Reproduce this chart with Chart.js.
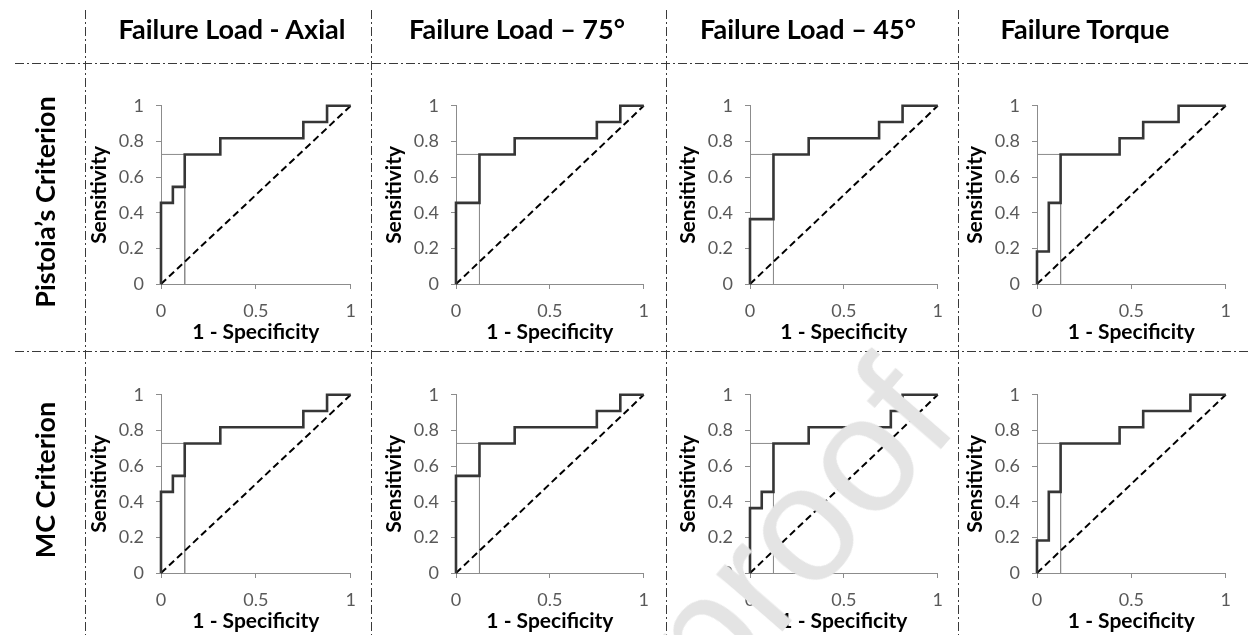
<!DOCTYPE html>
<html>
<head>
<meta charset="utf-8">
<title>ROC curves</title>
<script src="https://cdn.jsdelivr.net/npm/chart.js@4.4.1/dist/chart.umd.min.js"></script>
<style>
  html, body { margin: 0; padding: 0; background: #fff; }
  #page { position: relative; width: 1249px; height: 635px; overflow: hidden; font-family: Lato, "Open Sans", sans-serif; color: #000; }
  #grid { position: absolute; left: 0; top: 0; }
  .panel { position: absolute; }
  .head { position: absolute; top: 28px; font-size: 27px; font-weight: bold; white-space: nowrap; transform: translate(-50%, -50%); }
  .rowlab { position: absolute; font-size: 27px; font-weight: bold; white-space: nowrap; transform: translate(-50%, -50%) rotate(-90deg); }
  #mark { position: absolute; right: 330px; top: 306px; height: 165px; line-height: 165px; font-size: 165px;
          font-family: "Liberation Sans", Arial, sans-serif; color: #e4e4e4; white-space: nowrap;
          transform-origin: 100% 50%; transform: rotate(-49deg); pointer-events: none; }
</style>
</head>
<body>
<div id="page">
  <canvas id="grid" width="1249" height="635"></canvas>
</div>
<script>
var COLUMN_TITLES = ['Failure Load - Axial', 'Failure Load \u2013 75\u00b0', 'Failure Load \u2013 45\u00b0', 'Failure Torque'];
var ROW_TITLES = ['Pistoia\u2019s Criterion', 'MC Criterion'];
var X_TITLE = '1 - Specificity';
var Y_TITLE = 'Sensitivity';
var X_TICKS = [0, 0.5, 1];
var Y_TICKS = [0, 0.2, 0.4, 0.6, 0.8, 1];

// ROC corners (1 - specificity, sensitivity); each step rises first, then runs right
var pistoiaAxialFpr = [0, 0.0625, 0.125, 0.3125, 0.75, 0.875, 1];
var pistoiaAxialTpr = [0, 0.455, 0.545, 0.727, 0.818, 0.909, 1];
var pistoia75Fpr = [0, 0.125, 0.3125, 0.75, 0.875, 1];
var pistoia75Tpr = [0, 0.455, 0.727, 0.818, 0.909, 1];
var pistoia45Fpr = [0, 0.125, 0.3125, 0.6875, 0.8125, 1];
var pistoia45Tpr = [0, 0.364, 0.727, 0.818, 0.909, 1];
var pistoiaTorqueFpr = [0, 0.0625, 0.125, 0.4375, 0.5625, 0.75, 1];
var pistoiaTorqueTpr = [0, 0.182, 0.455, 0.727, 0.818, 0.909, 1];

var mcAxialFpr = [0, 0.0625, 0.125, 0.3125, 0.75, 0.875, 1];
var mcAxialTpr = [0, 0.455, 0.545, 0.727, 0.818, 0.909, 1];
var mc75Fpr = [0, 0.125, 0.3125, 0.75, 0.875, 1];
var mc75Tpr = [0, 0.545, 0.727, 0.818, 0.909, 1];
var mc45Fpr = [0, 0.0625, 0.125, 0.3125, 0.75, 0.8125, 1];
var mc45Tpr = [0, 0.364, 0.455, 0.727, 0.818, 0.909, 1];
var mcTorqueFpr = [0, 0.0625, 0.125, 0.4375, 0.5625, 0.8125, 1];
var mcTorqueTpr = [0, 0.182, 0.455, 0.727, 0.818, 0.909, 1];

// thin cut-off marker and the chance diagonal, same in every panel
var cutoffFpr = [0, 0.125, 0.125];
var cutoffTpr = [0.727, 0.727, 0];
var chanceFpr = [0, 1];
var chanceTpr = [0, 1];

var PANELS = [
    [[pistoiaAxialFpr, pistoiaAxialTpr], [pistoia75Fpr, pistoia75Tpr], [pistoia45Fpr, pistoia45Tpr], [pistoiaTorqueFpr, pistoiaTorqueTpr]],
    [[mcAxialFpr, mcAxialTpr], [mc75Fpr, mc75Tpr], [mc45Fpr, mc45Tpr], [mcTorqueFpr, mcTorqueTpr]]
];

// layout (pixels)
var PLOT_LEFT = [161, 456, 750, 1037];
var PLOT_WIDTH = [192, 190, 190, 191];
var PLOT_TOP = [95, 384];
var PLOT_HEIGHT = 189;
var Y_AXIS_W = 75, X_AXIS_H = 62, PAD_TOP = 12, PAD_RIGHT = 14;
var HEAD_X = [232, 517, 808, 1085];
var ROW_LABEL_X = 44, ROW_LABEL_Y = [202, 480];
var SEP_X = [85, 371, 666, 958];
var SEP_Y = [63, 351];

var FONT = 'Lato, "Open Sans", sans-serif';
var AXIS_GRAY = '#8c8c8c';

function toPoints(xs, ys) {
    return xs.map(function (x, i) { return { x: x, y: ys[i] }; });
}

function fixTicks(values) {
    return function (scale) {
        scale.ticks = values.map(function (v) { return { value: v }; });
    };
}

function plainLabel(v) {
    return String(Math.round(v * 10) / 10);
}

function createRocChart(canvas, fpr, tpr) {
    return new Chart(canvas.getContext('2d'), {
        type: 'line',
        data: {
            datasets: [
                { data: toPoints(fpr, tpr), borderColor: '#363636', borderWidth: 2.6, stepped: 'after', pointRadius: 0, clip: false },
                { data: toPoints(chanceFpr, chanceTpr), borderColor: '#000', borderWidth: 2, borderDash: [7, 4], pointRadius: 0, clip: false },
                { data: toPoints(cutoffFpr, cutoffTpr), borderColor: '#8c8c8c', borderWidth: 1, pointRadius: 0, clip: false },
            ],
        },
        options: {
            responsive: false,
            animation: false,
            layout: { padding: { top: PAD_TOP, right: PAD_RIGHT, left: 0, bottom: 0 } },
            plugins: { legend: { display: false }, tooltip: { enabled: false } },
            scales: {
                x: {
                    type: 'linear',
                    min: 0,
                    max: 1,
                    afterBuildTicks: fixTicks(X_TICKS),
                    afterFit: function (s) { s.height = X_AXIS_H; },
                    ticks: { color: '#595959', font: { family: FONT, size: 18 }, padding: 11, maxRotation: 0, autoSkip: false, callback: plainLabel },
                    grid: { drawOnChartArea: false, drawTicks: true, tickLength: 5, color: AXIS_GRAY },
                    border: { color: AXIS_GRAY, width: 1 },
                    title: { display: true, text: X_TITLE, color: '#000', font: { family: FONT, size: 21, weight: 'bold' }, padding: { top: 0, bottom: 1 } },
                },
                y: {
                    type: 'linear',
                    min: 0,
                    max: 1,
                    afterBuildTicks: fixTicks(Y_TICKS),
                    afterFit: function (s) { s.width = Y_AXIS_W; },
                    ticks: { color: '#595959', font: { family: FONT, size: 18 }, padding: 12, autoSkip: false, callback: plainLabel },
                    grid: { drawOnChartArea: false, drawTicks: true, tickLength: 5, color: AXIS_GRAY },
                    border: { color: AXIS_GRAY, width: 1 },
                    title: { display: true, text: Y_TITLE, color: '#000', font: { family: FONT, size: 21, weight: 'bold' }, padding: { top: 1, bottom: 0 } },
                },
            },
        },
    });
}

function drawSeparators() {
    var c = document.getElementById('grid').getContext('2d');
    c.strokeStyle = '#3a3a3a';
    c.lineWidth = 1;
    c.setLineDash([9, 3, 2, 3]);
    SEP_X.forEach(function (x) {
        c.beginPath(); c.moveTo(x + 0.5, 10); c.lineTo(x + 0.5, 635); c.stroke();
    });
    SEP_Y.forEach(function (y) {
        c.beginPath(); c.moveTo(15, y + 0.5); c.lineTo(1249, y + 0.5); c.stroke();
    });
}

function build() {
    var page = document.getElementById('page');
    drawSeparators();

    COLUMN_TITLES.forEach(function (t, i) {
        var d = document.createElement('div');
        d.className = 'head';
        d.style.left = HEAD_X[i] + 'px';
        d.textContent = t;
        page.appendChild(d);
    });
    ROW_TITLES.forEach(function (t, r) {
        var d = document.createElement('div');
        d.className = 'rowlab';
        d.style.left = ROW_LABEL_X + 'px';
        d.style.top = ROW_LABEL_Y[r] + 'px';
        d.textContent = t;
        page.appendChild(d);
    });

    for (var r = 0; r < 2; r++) {
        for (var c = 0; c < 4; c++) {
            var w = Y_AXIS_W + PLOT_WIDTH[c] + PAD_RIGHT;
            var h = PAD_TOP + PLOT_HEIGHT + X_AXIS_H;
            var cv = document.createElement('canvas');
            cv.className = 'panel';
            cv.width = w; cv.height = h;
            cv.style.width = w + 'px'; cv.style.height = h + 'px';
            cv.style.left = (PLOT_LEFT[c] - Y_AXIS_W) + 'px';
            cv.style.top = (PLOT_TOP[r] - PAD_TOP) + 'px';
            page.appendChild(cv);
            createRocChart(cv, PANELS[r][c][0], PANELS[r][c][1]);
        }
    }

    var mark = document.createElement('div');
    mark.id = 'mark';
    mark.textContent = 'Journal Pre-proof';
    page.appendChild(mark);
}

build();
</script>
</body>
</html>
